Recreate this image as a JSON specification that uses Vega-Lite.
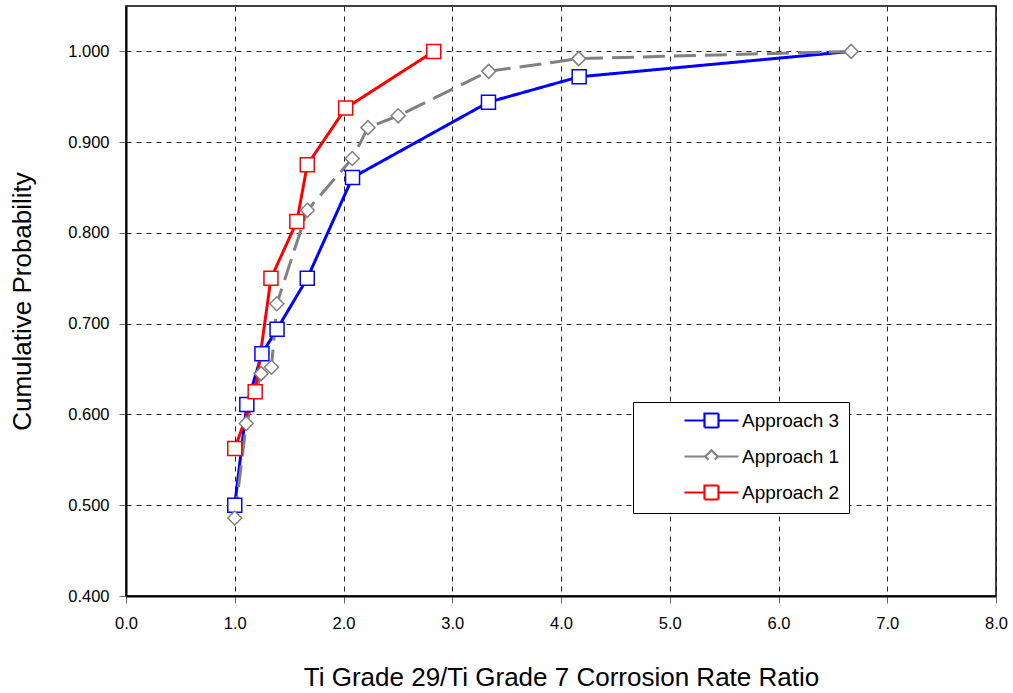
{
  "$schema": "https://vega.github.io/schema/vega-lite/v6.json",
  "width": 870,
  "height": 590,
  "autosize": {"type": "none"},
  "padding": {"left": 126, "top": 6, "right": 17, "bottom": 97},
  "background": "white",
  "config": {
    "font": "Liberation Sans",
    "view": {"stroke": "black", "strokeWidth": 1.5},
    "axis": {
      "labelFont": "Liberation Sans",
      "titleFont": "Liberation Sans",
      "labelFontSize": 16.5,
      "titleFontSize": 26,
      "titleFontWeight": "normal",
      "labelColor": "black",
      "titleColor": "black",
      "gridColor": "#222",
      "gridDash": [5, 5],
      "gridWidth": 1,
      "tickColor": "#666",
      "tickSize": 7,
      "domainColor": "black",
      "domainWidth": 2,
      "labelFlush": false
    },
    "legend": {
      "orient": "none",
      "legendX": 507,
      "legendY": 396,
      "direction": "vertical",
      "fillColor": "white",
      "strokeColor": "black",
      "padding": 9,
      "symbolOffset": 60,
      "symbolSize": 196,
      "symbolStrokeWidth": 2.2,
      "symbolFillColor": "white",
      "symbolOpacity": 1,
      "labelOffset": 21,
      "labelFontSize": 19,
      "labelFont": "Liberation Sans",
      "labelColor": "black",
      "rowPadding": 13
    }
  },
  "data": {
    "values": [
      {"series": "Approach 3", "x": 1.0, "y": 0.5, "marker": true},
      {"series": "Approach 3", "x": 1.111, "y": 0.611, "marker": true},
      {"series": "Approach 3", "x": 1.25, "y": 0.667, "marker": true},
      {"series": "Approach 3", "x": 1.389, "y": 0.694, "marker": true},
      {"series": "Approach 3", "x": 1.667, "y": 0.75, "marker": true},
      {"series": "Approach 3", "x": 2.083, "y": 0.861, "marker": true},
      {"series": "Approach 3", "x": 3.333, "y": 0.944, "marker": true},
      {"series": "Approach 3", "x": 4.167, "y": 0.972, "marker": true},
      {"series": "Approach 3", "x": 6.667, "y": 1.0, "marker": false},
      {"series": "Approach 1", "x": 1.0, "y": 0.486, "marker": true},
      {"series": "Approach 1", "x": 1.106, "y": 0.59, "marker": true},
      {"series": "Approach 1", "x": 1.243, "y": 0.645, "marker": true},
      {"series": "Approach 1", "x": 1.338, "y": 0.652, "marker": true},
      {"series": "Approach 1", "x": 1.387, "y": 0.722, "marker": true},
      {"series": "Approach 1", "x": 1.668, "y": 0.825, "marker": true},
      {"series": "Approach 1", "x": 2.081, "y": 0.882, "marker": true},
      {"series": "Approach 1", "x": 2.225, "y": 0.916, "marker": true},
      {"series": "Approach 1", "x": 2.503, "y": 0.929, "marker": true},
      {"series": "Approach 1", "x": 3.335, "y": 0.978, "marker": true},
      {"series": "Approach 1", "x": 4.163, "y": 0.992, "marker": true},
      {"series": "Approach 1", "x": 6.668, "y": 1.0, "marker": true},
      {"series": "Approach 2", "x": 1.0, "y": 0.5625, "marker": true},
      {"series": "Approach 2", "x": 1.188, "y": 0.625, "marker": true},
      {"series": "Approach 2", "x": 1.333, "y": 0.75, "marker": true},
      {"series": "Approach 2", "x": 1.571, "y": 0.8125, "marker": true},
      {"series": "Approach 2", "x": 1.667, "y": 0.875, "marker": true},
      {"series": "Approach 2", "x": 2.02, "y": 0.9375, "marker": true},
      {"series": "Approach 2", "x": 2.83, "y": 1.0, "marker": true}
    ]
  },
  "encoding": {
    "x": {
      "field": "x", "type": "quantitative",
      "scale": {"domain": [0, 8], "nice": false, "zero": false},
      "axis": {
        "title": "Ti Grade 29/Ti Grade 7 Corrosion Rate Ratio",
        "values": [0, 1, 2, 3, 4, 5, 6, 7, 8],
        "format": ".1f",
        "labelPadding": 12,
        "titlePadding": 33
      }
    },
    "y": {
      "field": "y", "type": "quantitative",
      "scale": {"domain": [0.4, 1.05], "nice": false, "zero": false},
      "axis": {
        "title": "Cumulative Probability",
        "values": [0.4, 0.5, 0.6, 0.7, 0.8, 0.9, 1.0],
        "format": ".3f",
        "labelPadding": 10,
        "titlePadding": 32
      }
    }
  },
  "layer": [
    {
      "mark": {"type": "line", "strokeWidth": 3},
      "encoding": {
        "color": {
          "field": "series", "type": "nominal",
          "scale": {"domain": ["Approach 3", "Approach 1", "Approach 2"], "range": ["#0000FF", "#808080", "#FF0000"]}
        },
        "strokeDash": {
          "field": "series", "type": "nominal",
          "scale": {"domain": ["Approach 3", "Approach 1", "Approach 2"], "range": [[1, 0], [22, 9], [1, 0]]},
          "legend": null
        }
      }
    },
    {
      "transform": [{"filter": "datum.marker && datum.series !== 'Approach 1'"}],
      "mark": {"type": "point", "shape": "square", "filled": true, "fill": "white", "strokeWidth": 1.5, "opacity": 1, "size": 196},
      "encoding": {
        "stroke": {
          "field": "series", "type": "nominal",
          "scale": {"domain": ["Approach 3", "Approach 1", "Approach 2"], "range": ["#0000FF", "#808080", "#FF0000"]},
          "legend": null
        }
      }
    },
    {
      "transform": [{"filter": "datum.series === 'Approach 1'"}],
      "mark": {"type": "point", "shape": "diamond", "filled": true, "fill": "white", "strokeWidth": 1.5, "opacity": 1, "size": 196},
      "encoding": {
        "stroke": {
          "field": "series", "type": "nominal",
          "legend": null
        }
      }
    },
    {
      "mark": {"type": "point", "filled": false, "opacity": 0, "size": 196},
      "encoding": {
        "shape": {
          "field": "series", "type": "nominal",
          "scale": {"domain": ["Approach 3", "Approach 1", "Approach 2"], "range": ["M-3.86,0L-1,0M1,0L3.86,0M-1,-1L1,-1L1,1L-1,1Z", "M-3.86,0L-0.9,0M0.9,0L3.86,0M-0.9,0L0,-0.9L0.9,0L0,0.9Z", "M-3.86,0L-1,0M1,0L3.86,0M-1,-1L1,-1L1,1L-1,1Z"]},
          "legend": {"title": null, "orient": "none", "legendX": 507, "legendY": 396}
        },
        "color": {
          "field": "series", "type": "nominal",
          "legend": {"title": null, "orient": "none", "legendX": 507, "legendY": 396}
        }
      }
    }
  ]
}
